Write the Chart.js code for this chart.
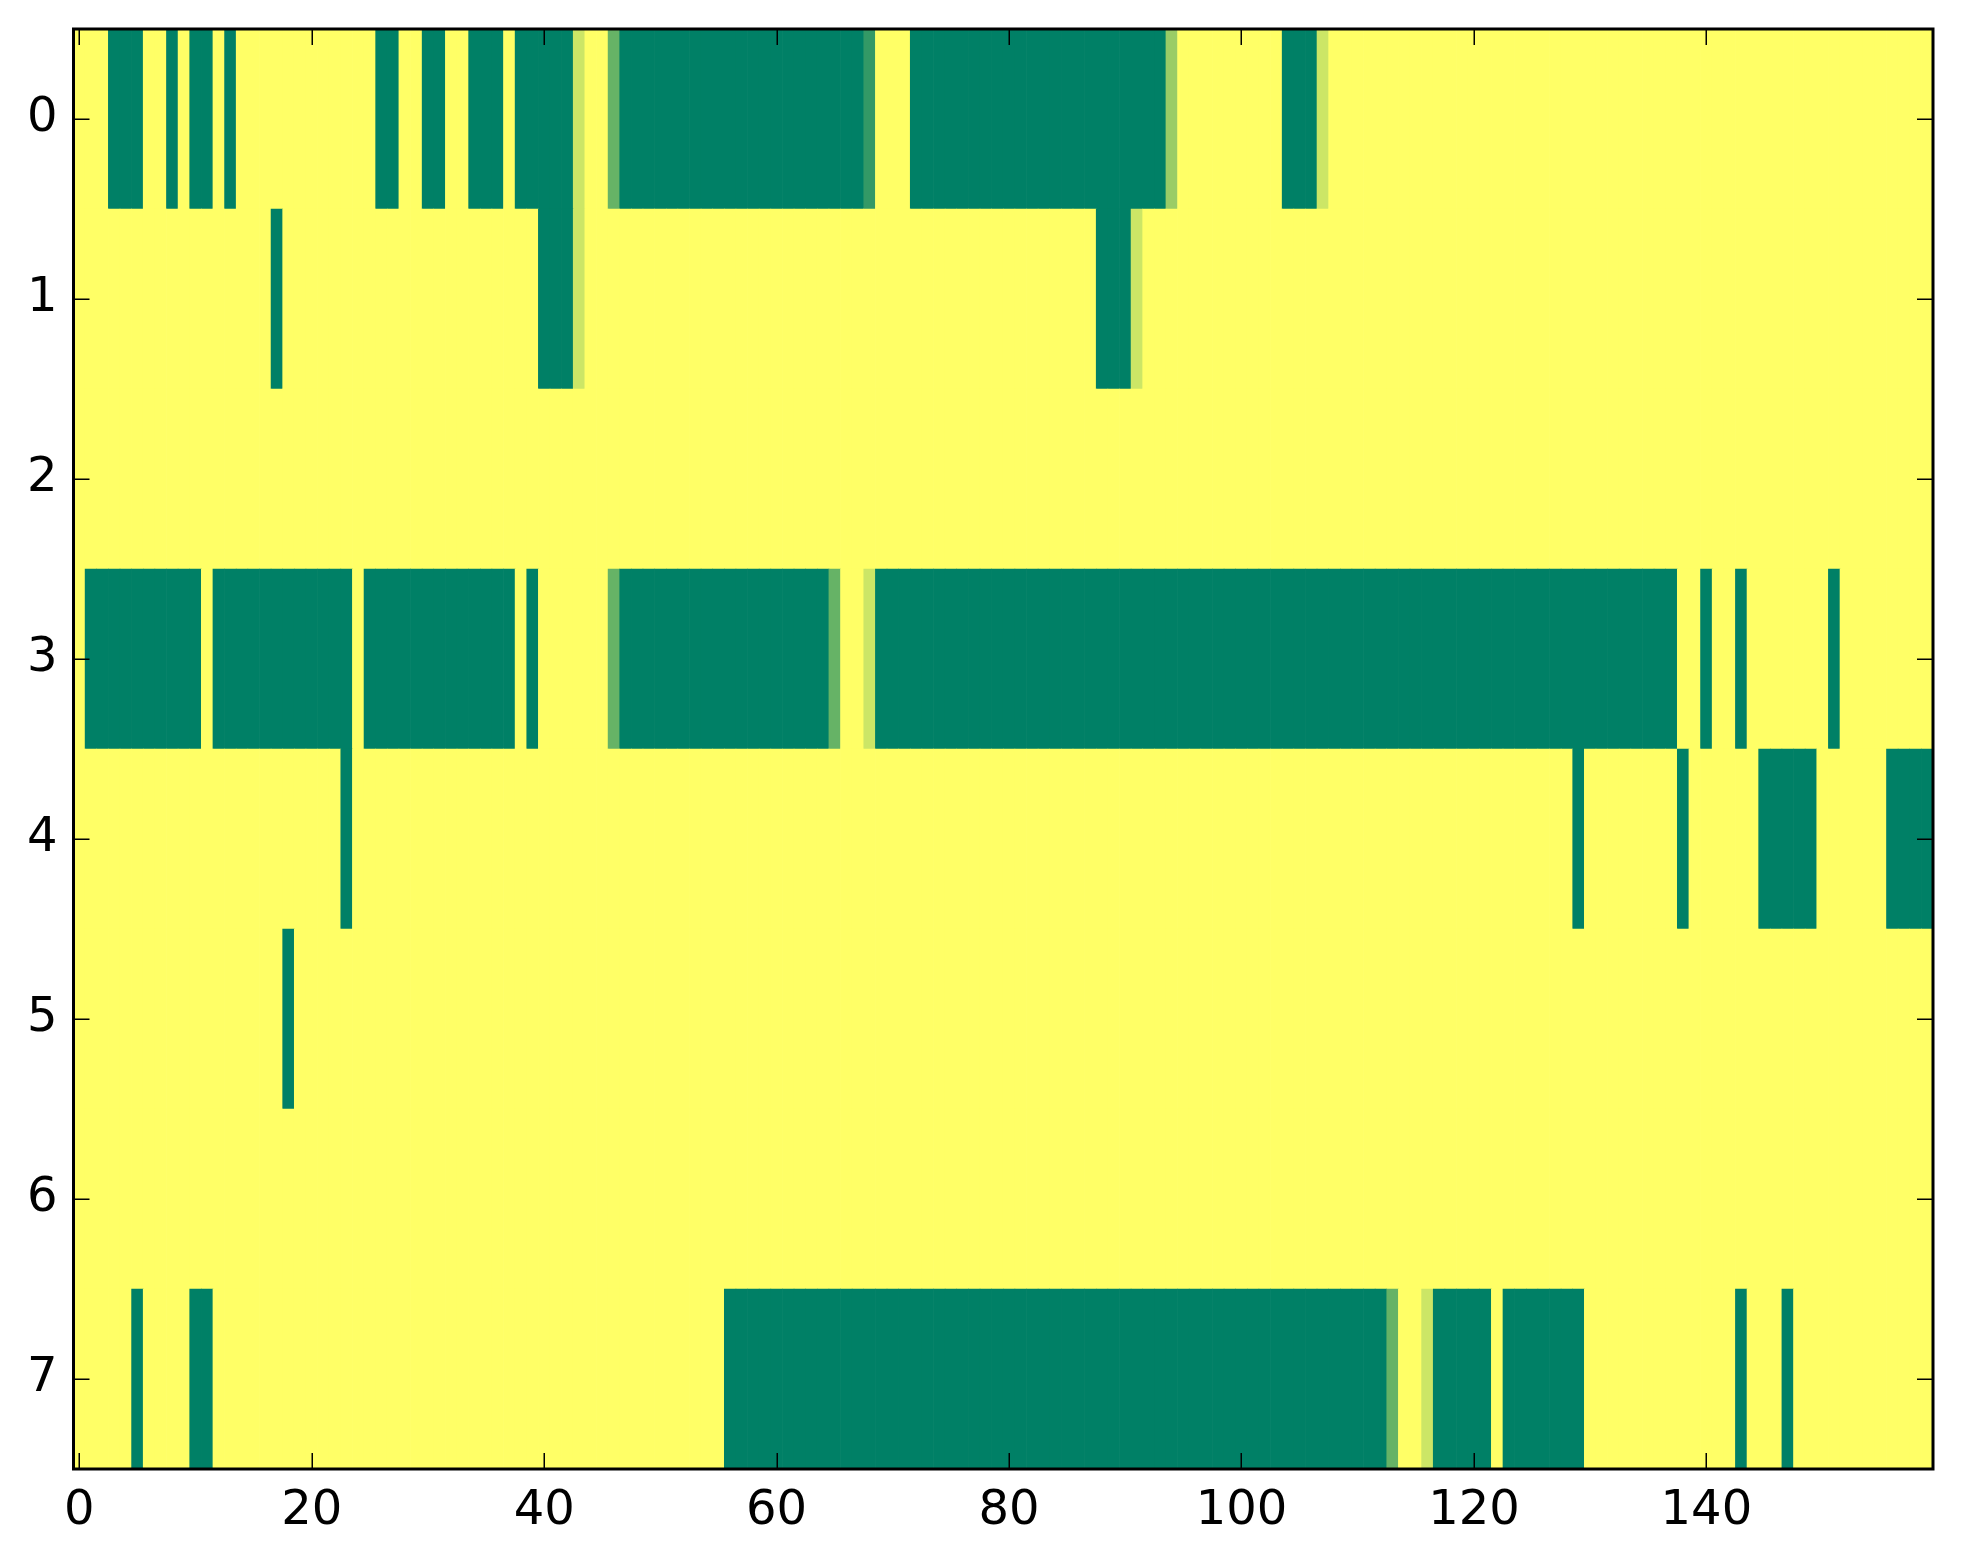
<!DOCTYPE html>
<html>
<head>
<meta charset="utf-8">
<script src="https://cdn.jsdelivr.net/npm/chart.js@4.4.1/dist/chart.umd.min.js"></script>
<style>
  html, body { margin: 0; padding: 0; background: #fff; }
  canvas { display: block; }
</style>
</head>
<body>
<canvas id="heat" width="1963" height="1564"></canvas>
<script>
const nCols = 160;
const rowLabels = [0, 1, 2, 3, 4, 5, 6, 7];
const xTicks = [0, 20, 40, 60, 80, 100, 120, 140];

// cells that are not 1 in each row: [firstCol, lastCol, value]
const row0 = [[3, 5, 0], [8, 8, 0], [10, 11, 0], [13, 13, 0], [26, 27, 0], [30, 31, 0],
  [34, 36, 0], [38, 42, 0], [43, 43, 0.8], [46, 46, 0.4], [47, 67, 0], [68, 68, 0.2],
  [72, 93, 0], [94, 94, 0.6], [104, 106, 0], [107, 107, 0.8]];
const row1 = [[17, 17, 0], [40, 42, 0], [43, 43, 0.8], [88, 90, 0], [91, 91, 0.8]];
const row2 = [];
const row3 = [[1, 10, 0], [12, 23, 0], [25, 37, 0], [39, 39, 0], [46, 46, 0.4], [47, 64, 0],
  [65, 65, 0.4], [68, 68, 0.8], [69, 137, 0], [140, 140, 0], [143, 143, 0], [151, 151, 0]];
const row4 = [[23, 23, 0], [129, 129, 0], [138, 138, 0], [145, 149, 0], [156, 159, 0]];
const row5 = [[18, 18, 0]];
const row6 = [];
const row7 = [[5, 5, 0], [10, 11, 0], [56, 112, 0], [113, 113, 0.4], [116, 116, 0.8],
  [117, 121, 0], [123, 129, 0], [143, 143, 0], [147, 147, 0]];

const rows = [row0, row1, row2, row3, row4, row5, row6, row7];

// matplotlib "summer" colormap
function summer(v) {
  const r = Math.round(255 * v);
  const g = Math.round(255 * (0.5 + v / 2));
  return `rgb(${r},${g},102)`;
}

const cells = [];
const colors = [];
rows.forEach((segs, r) => {
  const vals = new Array(nCols).fill(1);
  segs.forEach(([a, b, v]) => {
    for (let c = a; c <= b; c++) vals[c] = v;
  });
  vals.forEach((v, c) => {
    cells.push({ x: [c - 0.5, c + 0.5], y: r });
    colors.push(summer(v));
  });
});

// box + inward ticks on all four sides
const frame = {
  id: 'frame',
  afterDraw(chart) {
    const { ctx, chartArea: a, scales: { x, y } } = chart;
    ctx.save();
    ctx.strokeStyle = '#000';
    ctx.lineWidth = 1.5;
    ctx.beginPath();
    xTicks.forEach(v => {
      const px = Math.round(x.getPixelForValue(v)) + 0.25;
      ctx.moveTo(px, a.bottom); ctx.lineTo(px, a.bottom - 16);
      ctx.moveTo(px, a.top); ctx.lineTo(px, a.top + 16);
    });
    rowLabels.forEach(v => {
      const py = Math.round(y.getPixelForValue(v)) + 0.25;
      ctx.moveTo(a.left, py); ctx.lineTo(a.left + 16, py);
      ctx.moveTo(a.right, py); ctx.lineTo(a.right - 16, py);
    });
    ctx.stroke();
    ctx.lineWidth = 3;
    ctx.strokeRect(a.left, a.top, a.right - a.left, a.bottom - a.top);
    ctx.restore();
  }
};

const tickFont = { family: 'DejaVu Sans', size: 48 };

new Chart(document.getElementById('heat'), {
  type: 'bar',
  data: {
    datasets: [{
      data: cells,
      backgroundColor: colors,
      borderWidth: 0,
      barPercentage: 1,
      categoryPercentage: 1,
      grouped: false
    }]
  },
  options: {
    indexAxis: 'y',
    responsive: false,
    devicePixelRatio: 1,
    animation: false,
    layout: { padding: { top: 29, right: 30, left: 0, bottom: 0 } },
    plugins: { legend: { display: false }, tooltip: { enabled: false } },
    scales: {
      x: {
        type: 'linear',
        min: -0.5,
        max: 159.5,
        offset: false,
        grid: { display: false, drawTicks: false },
        border: { display: false },
        afterBuildTicks: s => { s.ticks = xTicks.map(v => ({ value: v })); },
        afterFit: s => { s.height = 95; s.paddingLeft = 0; s.paddingRight = 0; },
        ticks: { font: tickFont, color: '#000', padding: 14, maxRotation: 0, autoSkip: false }
      },
      y: {
        type: 'linear',
        reverse: true,
        min: -0.5,
        max: 7.5,
        offset: false,
        grid: { display: false, drawTicks: false, offset: false },
        border: { display: false },
        afterBuildTicks: s => { s.ticks = rowLabels.map(v => ({ value: v })); },
        afterFit: s => { s.width = 73.5; s.paddingTop = 0; s.paddingBottom = 0; },
        ticks: { font: tickFont, color: '#000', padding: 16, autoSkip: false }
      }
    }
  },
  plugins: [frame]
});
</script>
</body>
</html>
